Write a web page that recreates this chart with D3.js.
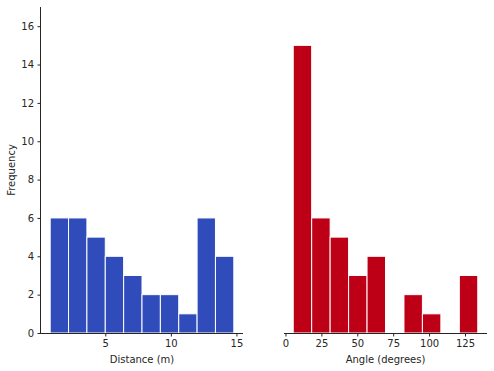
<!DOCTYPE html>
<meta charset="utf-8">
<head>
  <title>Distance and angle histograms</title>
</head>
<style>
body { margin: 0; background: #fff; }
svg text { font-family: "DejaVu Sans", sans-serif; fill: #262626; }
.axis path, .axis line { stroke: #262626; }
</style>
<body>
<svg id="chart" width="494" height="371"></svg>
<script src="https://cdnjs.cloudflare.com/ajax/libs/d3/7.8.5/d3.min.js"></script>
<script>
// histogram bins
var distanceEdges = [0.8, 2.2, 3.6, 5.0, 6.4, 7.8, 9.2, 10.6, 12.0, 13.4, 14.8];
var distanceCounts = [6, 6, 5, 4, 3, 2, 2, 1, 6, 4];
var angleEdges = [5.4, 18.25, 31.1, 43.95, 56.8, 69.65, 82.5, 95.35, 108.2, 121.05, 133.9];
var angleCounts = [15, 6, 5, 3, 4, 0, 2, 1, 0, 3];
var freqTicks = [0, 2, 4, 6, 8, 10, 12, 14, 16];
var distanceTicks = [5, 10, 15];
var angleTicks = [0, 25, 50, 75, 100, 125];

var svg = d3.select("#chart");
var plotTop = 7, plotBottom = 333;

var y = d3.scaleLinear().domain([0, 17]).range([plotBottom, plotTop]);

function padded(edges) {
  var lo = edges[0], hi = edges[edges.length - 1], m = (hi - lo) * 0.05;
  return [lo - m, hi + m];
}

function histogram(g, edges, counts, x0, x1, color, ticks, label, showY) {
  var x = d3.scaleLinear().domain(padded(edges)).range([x0, x1]);
  var bins = counts.map(function(c, i) { return {a: edges[i], b: edges[i + 1], n: c}; })
    .filter(function(d) { return d.n > 0; });

  g.selectAll("rect.bar").data(bins).enter().append("rect")
    .attr("class", "bar")
    .attr("x", function(d) { return x(d.a); })
    .attr("width", function(d) { return x(d.b) - x(d.a); })
    .attr("y", function(d) { return y(d.n); })
    .attr("height", function(d) { return y(0) - y(d.n); })
    .attr("fill", color)
    .attr("stroke", "#fff")
    .attr("stroke-width", 1);

  var xa = g.append("g").attr("class", "axis")
    .attr("transform", "translate(0," + plotBottom + ")")
    .call(d3.axisBottom(x).tickValues(ticks).tickSizeOuter(0).tickSize(3.5).tickPadding(3.5));
  xa.selectAll("text").attr("font-size", 10).style("font-family", "DejaVu Sans, sans-serif");
  xa.select(".domain").attr("d", "M" + x0 + ",0.5H" + x1);

  g.append("text")
    .attr("x", (x0 + x1) / 2).attr("y", 363)
    .attr("text-anchor", "middle").attr("font-size", 10)
    .text(label);

  if (showY) {
    var ya = g.append("g").attr("class", "axis")
      .attr("transform", "translate(" + x0 + ",0)")
      .call(d3.axisLeft(y).tickValues(freqTicks).tickSizeOuter(0).tickSize(3.5).tickPadding(3.5));
    ya.selectAll("text").attr("font-size", 10).style("font-family", "DejaVu Sans, sans-serif");
    ya.select(".domain").attr("d", "M-0.5," + plotTop + "V" + plotBottom);
  }
}

histogram(svg.append("g"), distanceEdges, distanceCounts, 41, 243, "#304cba", distanceTicks, "Distance (m)", true);
histogram(svg.append("g"), angleEdges, angleCounts, 284, 487, "#be0016", angleTicks, "Angle (degrees)", false);

svg.append("text")
  .attr("transform", "translate(15," + (plotTop + plotBottom) / 2 + ") rotate(-90)")
  .attr("text-anchor", "middle").attr("font-size", 10)
  .text("Frequency");
</script>
</body>
</html>
